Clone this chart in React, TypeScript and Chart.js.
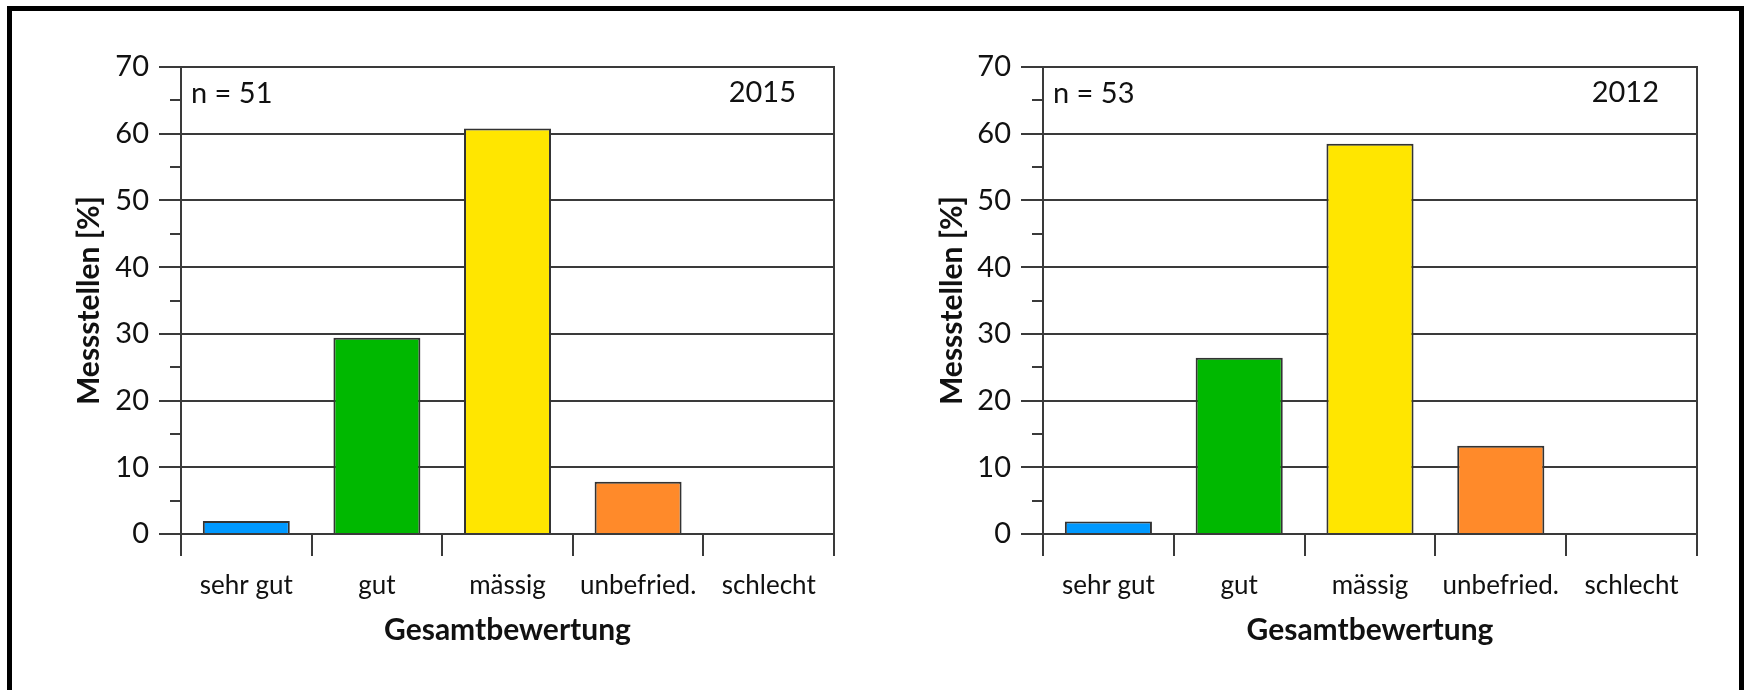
import React, { useEffect, useRef } from "react";
import { Chart, registerables } from "chart.js";

Chart.register(...registerables);

// ---- data ----
const categories = ["sehr gut", "gut", "mässig", "unbefried.", "schlecht"];
const values2015 = [1.96, 29.41, 60.78, 7.84, 0];
const values2012 = [1.89, 26.42, 58.49, 13.21, 0];
const barColors = ["#0099ff", "#00b800", "#ffe600", "#ff8a2a", "#e00000"];
const yMin = 0;
const yMax = 70;
const yStep = 10;
const xTitle = "Gesamtbewertung";
const yTitle = "Messstellen [%]";
const panels = [
  { year: "2015", nLabel: "n = 51", values: values2015 },
  { year: "2012", nLabel: "n = 53", values: values2012 },
];

const FONT = "Lato, 'Open Sans', sans-serif";
const LINE = "#3a3a3a";
const TEXT = "#111";

type PanelProps = {
  values: number[];
  year: string;
  nLabel: string;
  left: number;
  axisWidth: number;
  padRight: number;
  yTitlePad: number;
};

function Panel({ values, year, nLabel, left, axisWidth, padRight, yTitlePad }: PanelProps) {
  const ref = useRef<HTMLCanvasElement | null>(null);

  useEffect(() => {
    if (!ref.current) return;
    const framePlugin = {
      id: "frame",
      afterDraw(chart: any) {
        const { ctx, chartArea } = chart;
        const ys = chart.scales.y;
        ctx.save();
        ctx.strokeStyle = LINE;
        ctx.lineWidth = 2;
        // right border of the plot box
        ctx.beginPath();
        ctx.moveTo(chartArea.right, chartArea.top - 1);
        ctx.lineTo(chartArea.right, chartArea.bottom + 22);
        ctx.stroke();
        // minor ticks between major ones
        const ticks = ys.ticks;
        for (let i = 0; i < ticks.length - 1; i++) {
          const mid = (ticks[i].value + ticks[i + 1].value) / 2;
          const py = Math.round(ys.getPixelForValue(mid));
          ctx.beginPath();
          ctx.moveTo(chartArea.left - 11, py);
          ctx.lineTo(chartArea.left, py);
          ctx.stroke();
        }
        // annotations
        ctx.fillStyle = TEXT;
        ctx.font = `29px ${FONT}`;
        ctx.textBaseline = "middle";
        ctx.textAlign = "left";
        ctx.fillText(nLabel, chartArea.left + 10, chartArea.top + 27);
        ctx.textAlign = "right";
        ctx.fillText(year, chartArea.right - 38, chartArea.top + 26);
        ctx.restore();
      },
    };

    const chart = new Chart(ref.current, {
      type: "bar",
      data: {
        labels: categories,
        datasets: [
          {
            data: values,
            backgroundColor: barColors,
            borderColor: "#333",
            borderWidth: 2,
            borderSkipped: "start",
            categoryPercentage: 1,
            barPercentage: 0.666,
          },
        ],
      },
      options: {
        responsive: false,
        animation: false,
        layout: { padding: { top: 67, right: padRight, bottom: 0, left: 0 } },
        plugins: {
          legend: { display: false },
          tooltip: { enabled: false },
        },
        scales: {
          x: {
            type: "category",
            offset: true,
            grid: {
              offset: true,
              drawOnChartArea: false,
              drawTicks: true,
              tickLength: 22,
              color: LINE,
              lineWidth: 2,
            },
            border: { display: true, color: LINE, width: 2 },
            ticks: {
              color: TEXT,
              font: { family: FONT, size: 26 },
              padding: 14,
              maxRotation: 0,
              autoSkip: false,
            },
            title: {
              display: true,
              text: xTitle,
              color: TEXT,
              font: { family: FONT, size: 30, weight: "bold" },
              padding: { top: 0, bottom: 42 },
            },
            afterFit: (scale: any) => {
              scale.height = 156;
            },
          },
          y: {
            min: yMin,
            max: yMax,
            ticks: {
              stepSize: yStep,
              color: TEXT,
              font: { family: FONT, size: 29 },
              padding: 10,
            },
            grid: {
              color: LINE,
              lineWidth: 2,
              tickLength: 22,
              drawTicks: true,
            },
            border: { display: true, color: LINE, width: 2 },
            title: {
              display: true,
              text: yTitle,
              color: TEXT,
              font: { family: FONT, size: 30, weight: "bold" },
              padding: { top: yTitlePad, bottom: 0 },
            },
            afterFit: (scale: any) => {
              scale.width = axisWidth;
            },
          },
        },
      },
      plugins: [framePlugin],
    });
    return () => chart.destroy();
  }, [values, year, nLabel, axisWidth, padRight, yTitlePad]);

  return (
    <canvas
      ref={ref}
      width={872}
      height={690}
      style={{ position: "absolute", left, top: 0, width: 872, height: 690 }}
    />
  );
}

export default function App() {
  return (
    <div
      style={{
        position: "absolute",
        left: 0,
        top: 0,
        width: 1744,
        height: 690,
        overflow: "hidden",
        background: "#fff",
      }}
    >
      <div
        style={{
          position: "absolute",
          left: 7,
          top: 6,
          width: 1737,
          height: 720,
          boxSizing: "border-box",
          border: "5px solid #000",
        }}
      />
      <Panel
        values={panels[0].values}
        year={panels[0].year}
        nLabel={panels[0].nLabel}
        left={0}
        axisWidth={181}
        padRight={38}
        yTitlePad={71}
      />
      <Panel
        values={panels[1].values}
        year={panels[1].year}
        nLabel={panels[1].nLabel}
        left={872}
        axisWidth={171}
        padRight={47}
        yTitlePad={62}
      />
    </div>
  );
}
